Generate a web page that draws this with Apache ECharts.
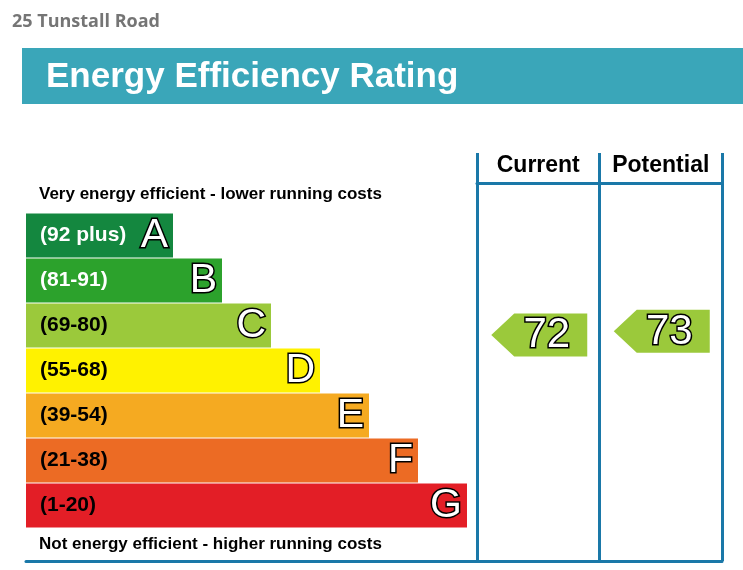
<!DOCTYPE html>
<html>
<head>
<meta charset="utf-8">
<title>Energy Efficiency Rating</title>
<script src="https://cdn.jsdelivr.net/npm/echarts@6.0.0/dist/echarts.min.js"></script>
<style>
  html, body { margin: 0; padding: 0; background: #fff; }
  #chart { width: 743px; height: 570px; }
</style>
</head>
<body>
<div id="chart"></div>
<script>
// rating bands, top (best) to bottom
var bandLetters = ['A', 'B', 'C', 'D', 'E', 'F', 'G'];
var bandRanges = ['(92 plus)', '(81-91)', '(69-80)', '(55-68)', '(39-54)', '(21-38)', '(1-20)'];
var bandMin = [92, 81, 69, 55, 39, 21, 1];
var bandMax = [100, 91, 80, 68, 54, 38, 20];
var bandLength = [3, 4, 5, 6, 7, 8, 9]; // relative bar length
var columns = ['Current', 'Potential'];
var ratings = [72, 73]; // current, potential

var bandColors = ['#14873f', '#2ca22c', '#9bc93b', '#fff200', '#f5aa21', '#ec6b24', '#e31e26'];
var frameBlue = '#1a78a8';

function bandOf(r) {
  for (var i = 0; i < bandMin.length; i++) {
    if (r >= bandMin[i]) return i;
  }
  return bandMin.length - 1;
}

var chart = echarts.init(document.getElementById('chart'));

var frameLine = { color: frameBlue, width: 3 };
var font = 'Liberation Sans, Arial';

var option = {
  animation: false,
  title: [
    {
      text: '25 Tunstall Road', left: 12, top: 13, padding: 0,
      textStyle: { color: '#757575', fontFamily: 'Open Sans', fontWeight: 'bold', fontSize: 18 }
    },
    {
      text: 'Energy Efficiency Rating', left: 46, top: 60, padding: 0, z: 10,
      textStyle: { color: '#fff', fontFamily: font, fontWeight: 'bold', fontSize: 35 }
    },
    {
      text: 'Very energy efficient - lower running costs', left: 39, top: 186, padding: 0,
      textStyle: { color: '#000', fontFamily: font, fontWeight: 'bold', fontSize: 17 }
    },
    {
      text: 'Not energy efficient - higher running costs', left: 39, top: 536, padding: 0,
      textStyle: { color: '#000', fontFamily: font, fontWeight: 'bold', fontSize: 17 }
    }
  ],
  graphic: [
    { type: 'rect', left: 22, top: 48, z: 0, shape: { width: 740, height: 56 }, style: { fill: '#3aa6b9' } }
  ],
  grid: [
    { left: 26, right: 266, top: 213, bottom: 42 },  // bars
    { left: 477, right: 21, top: 183, bottom: 9 },   // current / potential frame
    { left: 477, right: 21, top: 213, bottom: 42 }   // arrows, aligned with bars
  ],
  xAxis: [
    {
      gridIndex: 0, type: 'value', min: 0, max: 451 / 49, offset: 33,
      axisLine: { show: true, onZero: false, lineStyle: frameLine },
      axisTick: { show: false }, axisLabel: { show: false }, splitLine: { show: false }
    },
    {
      gridIndex: 1, type: 'category', data: columns, position: 'top',
      axisLine: { show: true, onZero: false, lineStyle: frameLine },
      axisTick: { show: true, inside: false, length: 30, interval: 0, lineStyle: frameLine },
      axisLabel: {
        interval: 0, margin: 6, color: '#000',
        fontFamily: font, fontWeight: 'bold', fontSize: 23
      },
      splitLine: { show: true, interval: 0, showMinLine: true, showMaxLine: true, lineStyle: frameLine }
    },
    {
      gridIndex: 1, type: 'category', data: columns, position: 'bottom',
      axisLine: { show: true, onZero: false, lineStyle: frameLine },
      axisTick: { show: false }, axisLabel: { show: false }, splitLine: { show: false }
    },
    { gridIndex: 2, type: 'category', data: columns, show: false }
  ],
  yAxis: [
    { gridIndex: 0, type: 'category', data: bandLetters, inverse: true, show: false },
    { gridIndex: 1, type: 'value', min: 0, max: 1, show: false },
    { gridIndex: 2, type: 'category', data: bandLetters, inverse: true, show: false }
  ],
  series: [
    {
      type: 'bar', xAxisIndex: 0, yAxisIndex: 0,
      barWidth: 44, barGap: '-100%',
      data: bandLength.map(function (v, i) {
        return {
          value: v,
          itemStyle: { color: bandColors[i] },
          label: { color: i < 2 ? '#fff' : '#000' }
        };
      }),
      label: {
        show: true, position: 'insideLeft', distance: 14,
        fontFamily: font, fontWeight: 'bold', fontSize: 21,
        formatter: function (p) { return bandRanges[p.dataIndex]; }
      }
    },
    {
      type: 'bar', xAxisIndex: 0, yAxisIndex: 0,
      barWidth: 44, barGap: '-100%',
      itemStyle: { color: 'rgba(0,0,0,0)' },
      data: bandLength,
      label: {
        show: true, position: 'insideRight', distance: 5,
        fontFamily: font, fontSize: 41,
        color: '#fff', textBorderColor: '#000', textBorderWidth: 3,
        formatter: function (p) { return bandLetters[p.dataIndex]; }
      }
    },
    {
      type: 'custom', xAxisIndex: 3, yAxisIndex: 2,
      data: ratings.map(function (r, i) { return [i, r]; }),
      renderItem: function (params, api) {
        var r = api.value(1);
        var bi = bandOf(r);
        var c = api.coord([api.value(0), bi]);
        var bandH = api.size([0, 1])[1];
        var cy = c[1] + ((bandMin[bi] + bandMax[bi]) / 2 - r) / (bandMax[bi] - bandMin[bi] + 1) * bandH;
        var w = 96, h = 43, tip = 23;
        var x0 = c[0] + 1 - w / 2;
        return {
          type: 'group',
          children: [
            {
              type: 'polygon',
              shape: {
                points: [[x0, cy], [x0 + tip, cy - h / 2], [x0 + w, cy - h / 2], [x0 + w, cy + h / 2], [x0 + tip, cy + h / 2]]
              },
              style: { fill: bandColors[bi] }
            },
            {
              type: 'text',
              x: x0 + tip + (w - tip) / 2 - 4, y: cy + 1,
              style: {
                text: String(r), align: 'center', verticalAlign: 'middle',
                fontFamily: font, fontSize: 42,
                fill: '#fff', stroke: '#000', lineWidth: 3
              }
            }
          ]
        };
      }
    }
  ]
};

chart.setOption(option);
</script>
</body>
</html>
